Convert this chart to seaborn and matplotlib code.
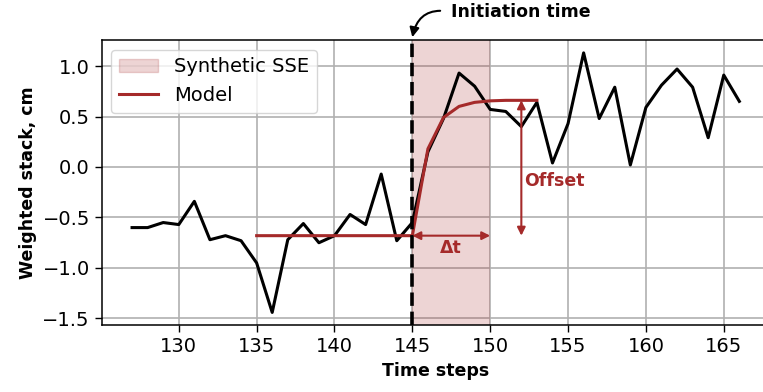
import matplotlib
matplotlib.use("Agg")
import matplotlib.pyplot as plt
import matplotlib.patches as mpatches
import matplotlib.lines as mlines
import numpy as np
import pandas as pd
import seaborn as sns

# Observed weighted stack per time step
time_steps = list(range(127, 167))
stack_cm = [-0.60, -0.60, -0.55, -0.57, -0.34, -0.72, -0.68, -0.73, -0.95, -1.44,
            -0.72, -0.56, -0.75, -0.68, -0.47, -0.57, -0.07, -0.73, -0.55, 0.15,
            0.48, 0.93, 0.80, 0.57, 0.55, 0.40, 0.64, 0.04, 0.43, 1.13,
            0.48, 0.79, 0.02, 0.59, 0.81, 0.97, 0.79, 0.29, 0.91, 0.65]

# Fitted model of the slow slip event
model_steps = list(range(135, 154))
model_cm = [-0.68] * 11 + [0.18, 0.49, 0.60, 0.64, 0.655, 0.66, 0.66, 0.66]

# Event parameters
t_init = 145
t_end = 150
baseline = -0.68
plateau = 0.66
offset_x = 152

RED = "#A52A2A"

obs = pd.DataFrame({"t": time_steps, "y": stack_cm})
mod = pd.DataFrame({"t": model_steps, "y": model_cm})

fig = plt.figure(figsize=(7.63, 3.92), dpi=100)
ax = fig.add_axes([101.7 / 763, 66.6 / 392, 668 / 763, 285.5 / 392])

ax.axvspan(t_init, t_end, color=RED, alpha=0.2, lw=0, zorder=1)
sns.lineplot(data=obs, x="t", y="y", ax=ax, color="black", lw=2.2, zorder=3)
sns.lineplot(data=mod, x="t", y="y", ax=ax, color=RED, lw=2.2, zorder=4)
ax.axvline(t_init, color="black", ls="--", lw=2.6, zorder=5)

ax.set_xlim(125.05, 167.95)
ax.set_ylim(-1.5685, 1.2585)
ax.set_xticks(np.arange(130, 166, 5))
ax.set_yticks(np.arange(-1.5, 1.01, 0.5))
ax.grid(True, color="#b0b0b0", lw=1.2, zorder=0)
ax.set_axisbelow(True)
ax.tick_params(labelsize=14, length=5, width=1)
for s in ax.spines.values():
    s.set_linewidth(1.1)
ax.set_xlabel("Time steps", fontsize=12.5, fontweight="bold")
ax.set_ylabel("Weighted stack, cm", fontsize=12.5, fontweight="bold")

# Duration arrow
ax.annotate("", xy=(t_end, baseline), xytext=(t_init, baseline),
            arrowprops=dict(arrowstyle="<|-|>", color=RED, lw=1.5,
                            mutation_scale=12, shrinkA=0, shrinkB=0), zorder=6)
ax.text((t_init + t_end) / 2, -0.80, "Δt", color=RED, fontsize=12.5,
        fontweight="bold", ha="center", va="center")

# Offset arrow
ax.annotate("", xy=(offset_x, plateau), xytext=(offset_x, baseline),
            arrowprops=dict(arrowstyle="<|-|>", color=RED, lw=1.5,
                            mutation_scale=12, shrinkA=0, shrinkB=0), zorder=6)
ax.text(offset_x + 0.2, -0.14, "Offset", color=RED, fontsize=12.5,
        fontweight="bold", ha="left", va="center")

# Initiation time marker
ax.annotate("Initiation time", xy=(t_init, 1.285), xytext=(147.5, 1.535),
            xycoords="data", textcoords="data", annotation_clip=False,
            fontsize=12.5, fontweight="bold", ha="left", va="center",
            arrowprops=dict(arrowstyle="-|>", color="black", lw=1.5,
                            connectionstyle="arc3,rad=0.5", relpos=(0, 0.5),
                            shrinkA=6, shrinkB=0, mutation_scale=14))

handles = [mpatches.Patch(color=RED, alpha=0.2, label="Synthetic SSE"),
           mlines.Line2D([], [], color=RED, lw=2.2, label="Model")]
ax.legend(handles=handles, loc="upper left", fontsize=14)

fig.savefig("out.png", dpi=100)
